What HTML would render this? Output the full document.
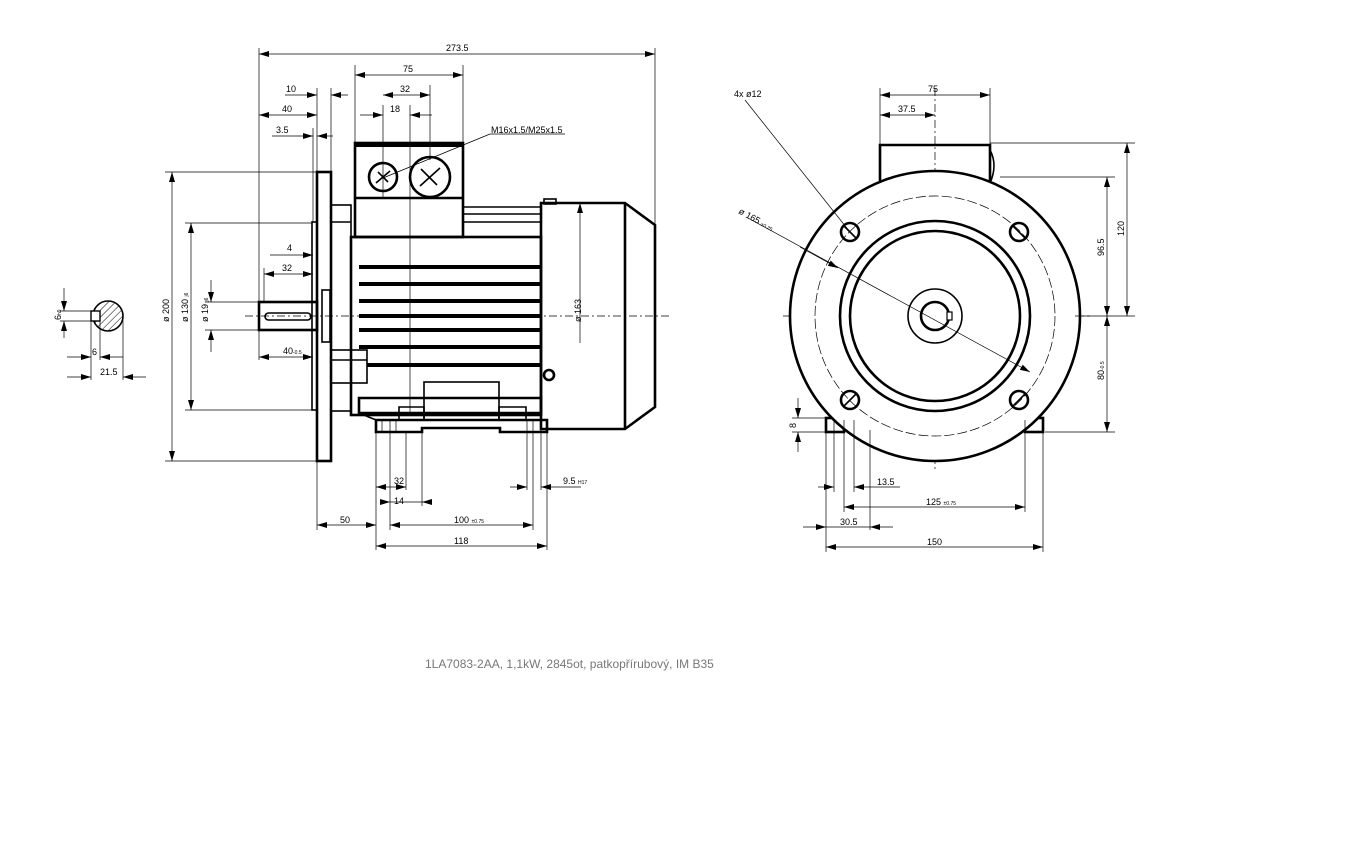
<!DOCTYPE html>
<html><head><meta charset="utf-8"><style>
html,body{margin:0;padding:0;background:#fff}
svg{display:block}
text{font-family:"Liberation Sans",sans-serif;font-size:9px;fill:#000}
.t{stroke:#000;stroke-width:2.6;fill:none}
.m{stroke:#000;stroke-width:1.6;fill:none}
.d{stroke:#000;stroke-width:0.7;fill:none}
.c{stroke:#000;stroke-width:0.7;fill:none;stroke-dasharray:8 3 2 3}
.f{stroke:#000;stroke-width:4}
</style></head><body>
<svg width="1359" height="859" viewBox="0 0 1359 859" xmlns="http://www.w3.org/2000/svg">
<defs>
<marker id="a" viewBox="0 0 10 6" refX="10" refY="3" markerWidth="10" markerHeight="6" orient="auto-start-reverse" markerUnits="userSpaceOnUse"><path d="M0,0L10,3L0,6z" fill="#000"/></marker>
<pattern id="h" width="5" height="5" patternUnits="userSpaceOnUse" patternTransform="rotate(45)"><line x1="0" y1="0" x2="0" y2="5" stroke="#000" stroke-width="1"/></pattern>
</defs>

<!-- ===== LEFT VIEW ===== -->
<!-- centre line -->
<line class="c" x1="245" y1="316" x2="670" y2="316"/>
<!-- flange -->
<rect class="t" x="317" y="172" width="14" height="289"/>
<rect class="m" x="312" y="222" width="5" height="188"/>
<rect class="m" x="322" y="290" width="8" height="52"/>
<!-- shaft -->
<rect class="t" x="259" y="302" width="58" height="28"/>
<rect class="m" x="265" y="313" width="46" height="7" rx="3.5"/>
<!-- spigot / bearing -->
<rect class="m" x="331" y="205" width="20" height="206"/>
<line class="m" x1="331" y1="222" x2="351" y2="222"/>
<rect class="m" x="331" y="350" width="36" height="33"/>
<line class="m" x1="331" y1="360" x2="367" y2="360"/>
<!-- body -->
<rect class="t" x="351" y="237" width="190" height="178"/>
<line class="m" x1="463" y1="207" x2="541" y2="207"/>
<line class="m" x1="463" y1="214" x2="541" y2="214"/>
<line class="m" x1="463" y1="222" x2="541" y2="222"/>
<!-- fins -->
<g class="f">
<line x1="359" y1="267" x2="541" y2="267"/>
<line x1="359" y1="284" x2="541" y2="284"/>
<line x1="359" y1="301" x2="541" y2="301"/>
<line x1="359" y1="316" x2="541" y2="316"/>
<line x1="359" y1="330" x2="541" y2="330"/>
<line x1="359" y1="347" x2="541" y2="347"/>
<line x1="367" y1="365" x2="541" y2="365"/>
</g>
<!-- terminal box -->
<rect class="t" x="355" y="143" width="108" height="94"/>
<line class="t" x1="355" y1="198" x2="463" y2="198"/>
<line x1="355" y1="145" x2="463" y2="145" stroke="#000" stroke-width="4"/>
<circle class="t" cx="383" cy="177" r="14"/>
<circle class="t" cx="430" cy="177" r="20"/>
<path class="m" d="M376,183l14,-12M378,172l10,10"/>
<path class="m" d="M420,186l20,-18M421,169l16,16"/>
<!-- base / foot -->
<path class="t" d="M359,398h182v15H359z"/>
<rect class="m" x="424" y="382" width="75" height="38"/>
<path class="m" d="M399,407h25v13h-25zM499,407h27v13h-27z"/>
<path class="t" d="M376,420h171v12H500v-4H422v4H376z"/>
<path class="m" d="M359,413l17,7"/>
<line class="d" x1="382" y1="420" x2="382" y2="432"/><line class="d" x1="390" y1="420" x2="390" y2="432"/><line class="d" x1="396" y1="420" x2="396" y2="432"/>
<line class="d" x1="527" y1="420" x2="527" y2="432"/><line class="d" x1="533" y1="420" x2="533" y2="432"/><line class="d" x1="541" y1="420" x2="541" y2="432"/>
<!-- fan cover -->
<path class="t" d="M541,203H625L655,225V407L625,429H541z"/>
<line class="t" x1="625" y1="203" x2="625" y2="429"/>
<rect class="m" x="544" y="199" width="12" height="5"/>
<circle class="t" cx="549" cy="375" r="5"/>
<!-- vertical construction -->
<line class="d" x1="383" y1="105" x2="383" y2="198"/>
<line class="d" x1="410" y1="105" x2="410" y2="415"/>
<line class="d" x1="430" y1="85" x2="430" y2="160"/>
<line class="d" x1="355" y1="65" x2="355" y2="143"/>
<line class="d" x1="463" y1="65" x2="463" y2="143"/>
<line class="d" x1="259" y1="48" x2="259" y2="360"/>
<line class="d" x1="655" y1="48" x2="655" y2="225"/>
<line class="d" x1="317" y1="88" x2="317" y2="172"/>
<line class="d" x1="331" y1="88" x2="331" y2="172"/>
<line class="d" x1="313" y1="128" x2="313" y2="222"/>
<line class="d" x1="317" y1="461" x2="317" y2="530"/>
<line class="d" x1="165" y1="172" x2="317" y2="172"/>
<line class="d" x1="165" y1="461" x2="317" y2="461"/>
<line class="d" x1="185" y1="223" x2="312" y2="223"/>
<line class="d" x1="185" y1="410" x2="312" y2="410"/>
<line class="d" x1="205" y1="302" x2="259" y2="302"/>
<line class="d" x1="205" y1="330" x2="259" y2="330"/>
<line class="d" x1="264" y1="268" x2="264" y2="302"/>
<line class="d" x1="560" y1="203" x2="590" y2="203"/>
<!-- bottom extension lines -->
<g class="d">
<line x1="376" y1="432" x2="376" y2="550"/><line x1="390" y1="432" x2="390" y2="530"/>
<line x1="406" y1="432" x2="406" y2="490"/><line x1="422" y1="432" x2="422" y2="506"/>
<line x1="527" y1="432" x2="527" y2="490"/><line x1="533" y1="432" x2="533" y2="530"/>
<line x1="541" y1="432" x2="541" y2="490"/><line x1="547" y1="432" x2="547" y2="550"/>
<line x1="541" y1="432" x2="1400" y2="432" stroke-width="1.4" style="display:none"/>
</g>
<line class="m" x1="547" y1="428" x2="655" y2="428" style="display:none"/>

<!-- dimensions left -->
<g class="d">
<line x1="259" y1="54" x2="655" y2="54" marker-start="url(#a)" marker-end="url(#a)"/>
<line x1="355" y1="75" x2="463" y2="75" marker-start="url(#a)" marker-end="url(#a)"/>
<line x1="285" y1="95" x2="317" y2="95" marker-end="url(#a)"/><line x1="348" y1="95" x2="331" y2="95" marker-end="url(#a)"/>
<line x1="383" y1="95" x2="430" y2="95" marker-start="url(#a)" marker-end="url(#a)"/>
<line x1="259" y1="115" x2="317" y2="115" marker-start="url(#a)" marker-end="url(#a)"/>
<line x1="360" y1="115" x2="383" y2="115" marker-end="url(#a)"/><line x1="432" y1="115" x2="410" y2="115" marker-end="url(#a)"/>
<line x1="272" y1="136" x2="313" y2="136" marker-end="url(#a)"/><line x1="333" y1="136" x2="317" y2="136" marker-end="url(#a)"/>
<line x1="490" y1="134" x2="383" y2="178"/><line x1="490" y1="134" x2="565" y2="134"/>
<line x1="270" y1="255" x2="313" y2="255" marker-end="url(#a)"/>
<line x1="264" y1="274" x2="313" y2="274" marker-start="url(#a)" marker-end="url(#a)"/>
<line x1="259" y1="357" x2="313" y2="357" marker-start="url(#a)" marker-end="url(#a)"/>
<line x1="172" y1="172" x2="172" y2="461" marker-start="url(#a)" marker-end="url(#a)"/>
<line x1="191" y1="223" x2="191" y2="410" marker-start="url(#a)" marker-end="url(#a)"/>
<line x1="211" y1="280" x2="211" y2="302" marker-end="url(#a)"/><line x1="211" y1="352" x2="211" y2="330" marker-end="url(#a)"/>
<line x1="580" y1="343" x2="580" y2="203" marker-end="url(#a)"/>
<line x1="376" y1="487" x2="406" y2="487" marker-start="url(#a)" marker-end="url(#a)"/>
<line x1="380" y1="502" x2="390" y2="502" marker-end="url(#a)"/><line x1="432" y1="502" x2="422" y2="502" marker-end="url(#a)"/>
<line x1="390" y1="502" x2="422" y2="502"/>
<line x1="317" y1="525" x2="376" y2="525" marker-start="url(#a)" marker-end="url(#a)"/>
<line x1="390" y1="525" x2="533" y2="525" marker-start="url(#a)" marker-end="url(#a)"/>
<line x1="376" y1="546" x2="547" y2="546" marker-start="url(#a)" marker-end="url(#a)"/>
<line x1="510" y1="487" x2="527" y2="487" marker-end="url(#a)"/><line x1="581" y1="487" x2="541" y2="487" marker-end="url(#a)"/>
</g>
<text x="446" y="51">273.5</text>
<text x="403" y="72">75</text>
<text x="286" y="92">10</text>
<text x="400" y="92">32</text>
<text x="282" y="112">40</text>
<text x="390" y="112">18</text>
<text x="276" y="133">3.5</text>
<text x="491" y="133">M16x1.5/M25x1.5</text>
<text x="287" y="251">4</text>
<text x="282" y="271">32</text>
<text x="283" y="354">40<tspan font-size="5">-0.5</tspan></text>
<text x="394" y="484">32</text>
<text x="394" y="504">14</text>
<text x="340" y="523">50</text>
<text x="454" y="523">100 <tspan font-size="5">±0.75</tspan></text>
<text x="454" y="544">118</text>
<text x="563" y="484">9.5 <tspan font-size="5">H17</tspan></text>
<text transform="translate(169,322) rotate(-90)">ø 200</text>
<text transform="translate(188,322) rotate(-90)">ø 130 <tspan font-size="5">j6</tspan></text>
<text transform="translate(208,322) rotate(-90)">ø 19 <tspan font-size="5">j6</tspan></text>
<text transform="translate(581,322) rotate(-90)">ø 163</text>

<!-- key section -->
<circle cx="108" cy="316" r="15" fill="url(#h)" stroke="#000" stroke-width="1.6"/>
<rect x="91" y="311" width="9" height="10" fill="#fff" stroke="#000" stroke-width="1.4"/>
<g class="d">
<line x1="64" y1="288" x2="64" y2="311" marker-end="url(#a)"/><line x1="64" y1="338" x2="64" y2="321" marker-end="url(#a)"/>
<line x1="60" y1="311" x2="91" y2="311"/><line x1="60" y1="321" x2="91" y2="321"/>
<line x1="91" y1="321" x2="91" y2="380"/><line x1="100" y1="321" x2="100" y2="360"/><line x1="123" y1="316" x2="123" y2="380"/>
<line x1="67" y1="357" x2="91" y2="357" marker-end="url(#a)"/><line x1="123" y1="357" x2="100" y2="357" marker-end="url(#a)"/>
<line x1="67" y1="377" x2="91" y2="377" marker-end="url(#a)"/><line x1="146" y1="377" x2="123" y2="377" marker-end="url(#a)"/>
</g>
<text transform="translate(61,320) rotate(-90)">6<tspan font-size="5">h9</tspan></text>
<text x="92" y="355">6</text>
<text x="100" y="375">21.5</text>

<!-- ===== RIGHT VIEW ===== -->
<line class="c" x1="783" y1="316" x2="1090" y2="316"/>
<line class="c" x1="935" y1="88" x2="935" y2="470"/>
<!-- terminal box -->
<path class="t" d="M880,183V145H990V183"/>
<path class="m" d="M990,150q8,15 0,33"/>
<!-- feet -->
<rect class="t" x="826" y="418" width="18" height="14"/>
<rect class="t" x="1025" y="418" width="18" height="14"/>
<circle cx="935" cy="316" r="145" fill="#fff" stroke="#000" stroke-width="2.6"/>
<circle cx="935" cy="316" r="120" fill="none" stroke="#000" stroke-width="0.7" stroke-dasharray="10 3"/>
<circle class="t" cx="935" cy="316" r="95"/>
<circle class="t" cx="935" cy="316" r="85"/>
<circle class="m" cx="935" cy="316" r="27"/>
<circle class="t" cx="935" cy="316" r="14"/>
<rect x="947" y="312" width="5" height="8" fill="#fff" stroke="#000" stroke-width="1.2"/>
<g class="t" stroke-width="2">
<circle cx="850" cy="232" r="9"/><circle cx="1019" cy="232" r="9"/>
<circle cx="850" cy="400" r="9"/><circle cx="1019" cy="400" r="9"/>
</g>
<g class="m" stroke-width="1.2">
<line x1="844" y1="226" x2="856" y2="238"/><line x1="1013" y1="226" x2="1025" y2="238"/>
<line x1="844" y1="406" x2="856" y2="394"/><line x1="1013" y1="406" x2="1025" y2="394"/>
</g>
<line class="c" x1="935" y1="316" x2="935" y2="316"/>
<!-- right construction/dims -->
<g class="d">
<line x1="880" y1="88" x2="880" y2="145"/><line x1="990" y1="88" x2="990" y2="145"/>
<line x1="880" y1="95" x2="990" y2="95" marker-start="url(#a)" marker-end="url(#a)"/>
<line x1="880" y1="115" x2="935" y2="115" marker-start="url(#a)" marker-end="url(#a)"/>
<line x1="990" y1="143" x2="1135" y2="143"/><line x1="1000" y1="177" x2="1115" y2="177"/>
<line x1="1045" y1="432" x2="1115" y2="432"/><line x1="1075" y1="316" x2="1135" y2="316"/>
<line x1="1127" y1="143" x2="1127" y2="316" marker-start="url(#a)" marker-end="url(#a)"/>
<line x1="1107" y1="177" x2="1107" y2="316" marker-start="url(#a)" marker-end="url(#a)"/>
<line x1="1107" y1="316" x2="1107" y2="432" marker-start="url(#a)" marker-end="url(#a)"/>
<line x1="745" y1="100" x2="850" y2="232"/>
<line x1="748" y1="218" x2="1030" y2="372" marker-end="url(#a)"/>
<line x1="800" y1="247" x2="838" y2="268" marker-end="url(#a)"/>
<line x1="792" y1="418" x2="826" y2="418"/><line x1="792" y1="432" x2="826" y2="432"/>
<line x1="798" y1="398" x2="798" y2="418" marker-end="url(#a)"/><line x1="798" y1="452" x2="798" y2="432" marker-end="url(#a)"/>
<line x1="826" y1="432" x2="826" y2="552"/><line x1="834" y1="420" x2="834" y2="492"/>
<line x1="844" y1="420" x2="844" y2="512"/><line x1="854" y1="420" x2="854" y2="492"/>
<line x1="870" y1="430" x2="870" y2="530"/>
<line x1="1025" y1="420" x2="1025" y2="512"/><line x1="1043" y1="432" x2="1043" y2="552"/>
<line x1="818" y1="487" x2="834" y2="487" marker-end="url(#a)"/><line x1="900" y1="487" x2="854" y2="487" marker-end="url(#a)"/>
<line x1="844" y1="507" x2="1025" y2="507" marker-start="url(#a)" marker-end="url(#a)"/>
<line x1="803" y1="527" x2="826" y2="527" marker-end="url(#a)"/><line x1="893" y1="527" x2="870" y2="527" marker-end="url(#a)"/>
<line x1="826" y1="527" x2="870" y2="527"/>
<line x1="826" y1="547" x2="1043" y2="547" marker-start="url(#a)" marker-end="url(#a)"/>
</g>
<text x="734" y="97">4x  ø12</text>
<text transform="translate(738,213) rotate(28.6)">ø 165 <tspan font-size="5">±0.25</tspan></text>
<text x="928" y="92">75</text>
<text x="898" y="112">37.5</text>
<text transform="translate(1124,236) rotate(-90)">120</text>
<text transform="translate(1104,256) rotate(-90)">96.5</text>
<text transform="translate(1104,380) rotate(-90)">80<tspan font-size="5">-0.5</tspan></text>
<text transform="translate(796,428) rotate(-90)">8</text>
<text x="877" y="485">13.5</text>
<text x="926" y="505">125 <tspan font-size="5">±0.75</tspan></text>
<text x="840" y="525">30.5</text>
<text x="927" y="545">150</text>

<text x="425" y="668" style="font-size:12px;fill:#777">1LA7083-2AA,  1,1kW, 2845ot, patkopřírubový, IM B35</text>
</svg>
</body></html>
